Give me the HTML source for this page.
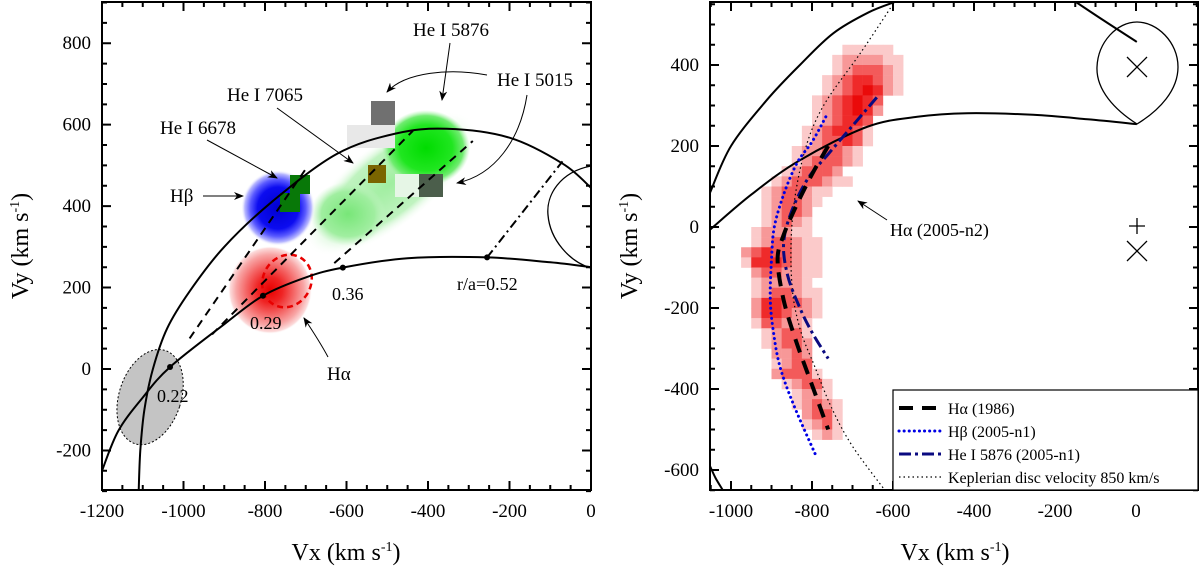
<!DOCTYPE html>
<html><head><meta charset="utf-8">
<style>
html,body{margin:0;padding:0;background:#fff;}
svg{display:block;font-family:"Liberation Serif",serif;}
</style></head>
<body>
<svg id="fig" width="1200" height="567" viewBox="0 0 1200 567" xmlns="http://www.w3.org/2000/svg">
<defs>
<clipPath id="clipL"><rect x="102" y="2" width="489" height="488"/></clipPath>
<clipPath id="clipR"><rect x="710" y="2" width="488" height="488"/></clipPath>
<radialGradient id="gRed"><stop offset="0" stop-color="#e80000"/><stop offset="0.3" stop-color="#ef2424"/><stop offset="0.55" stop-color="#f46262"/><stop offset="0.8" stop-color="#f8a4a4"/><stop offset="0.95" stop-color="#fcdcdc"/><stop offset="1" stop-color="#fff" stop-opacity="0"/></radialGradient>
<radialGradient id="gBlue"><stop offset="0" stop-color="#0000d0"/><stop offset="0.55" stop-color="#0c0cf0"/><stop offset="0.75" stop-color="#5a5aff"/><stop offset="0.9" stop-color="#b8b8ff"/><stop offset="1" stop-color="#fff" stop-opacity="0"/></radialGradient>
<radialGradient id="gGreenL"><stop offset="0" stop-color="#a0eea0"/><stop offset="0.7" stop-color="#c0f3c0"/><stop offset="1" stop-color="#fff" stop-opacity="0"/></radialGradient>
<radialGradient id="gGreenB"><stop offset="0" stop-color="#00dc00"/><stop offset="0.6" stop-color="#20e620"/><stop offset="0.85" stop-color="#70ec70"/><stop offset="1" stop-color="#b0f3b0" stop-opacity="0"/></radialGradient>
<radialGradient id="gGreenM"><stop offset="0" stop-color="#78e678"/><stop offset="0.7" stop-color="#a0eea0"/><stop offset="1" stop-color="#c8f5c8" stop-opacity="0"/></radialGradient>
<marker id="arr" markerWidth="10" markerHeight="8" refX="9" refY="4" orient="auto" markerUnits="userSpaceOnUse"><path d="M0,0 L10,4 L0,8 L3,4 Z" fill="#000"/></marker>
</defs>
</svg>
<script>
// ===== LEFT PANEL DATA (km/s) =====
const leftXTicks = [-1200,-1000,-800,-600,-400,-200,0];
const leftYTicks = [-200,0,200,400,600,800];
const outerArcVx = [-1110,-1106,-1096,-1075,-1040,-984,-900,-780,-624,-480,-354,-200,-69,0];
const outerArcVy = [-300,-200,-100,0,100,192,300,413,528,578,590,568,504,445];
const innerArcVx = [-1200,-1160,-1100,-1033,-900,-805,-700,-609,-450,-255,-100,0];
const innerArcVy = [-250,-152,-70,5,110,180,225,249,272,274,262,250];
const markVx = [-1033,-805,-609,-255];
const markVy = [5,180,249,274];
const markLabels = ["0.22","0.29","0.36","r/a=0.52"];
const dashStartVx = [-985,-930,-630];
const dashStartVy = [75,85,260];
const dashEndVx = [-694,-437,-290];
const dashEndVy = [500,585,560];
// ===== RIGHT PANEL DATA (km/s) =====
const rightXTicks = [-1000,-800,-600,-400,-200,0];
const rightYTicks = [-600,-400,-200,0,200,400];
const heatRowVy = [450,425,400,375,350,325,300,275,250,225,200,175,150,125,100,75,50,25,0,-25,-50,-75,-100,-125,-150,-175,-200,-225,-250,-275,-300,-325,-350,-375,-400,-425,-450,-475,-500];
const heatRowLeft = [-725,-750,-750,-775,-775,-800,-800,-800,-825,-825,-850,-850,-875,-900,-925,-925,-925,-925,-950,-950,-975,-975,-950,-950,-950,-950,-950,-950,-925,-925,-900,-900,-900,-875,-850,-850,-825,-825,-800];
const heatRowLevels = ["11111","1222211","1233321","12344321","12345421","1234543","1234542","123443","1234431","1233431","1223321","1233321","123332","12333211","1233211","123321","12332","12321","122211","1233211","23433211","14443211","2332211","122221","1233211","2443321","2443221","133221","12331","12332","2232","1233","23331","12331","1221","12321","2331","1231","121"];
const haVx = [-760,-800,-840,-870,-885,-870,-840,-800,-760];
const haVy = [200,130,50,-20,-80,-180,-280,-390,-500];
const hbVx = [-766,-800,-837,-870,-893,-900,-903,-895,-879,-845,-790];
const hbVy = [272,210,158,80,0,-80,-180,-260,-345,-440,-565];
const heVx = [-640,-700,-760,-810,-850,-870,-860,-830,-800,-760];
const heVy = [320,250,180,120,40,-40,-120,-200,-260,-325];
const kepVx = [-600,-680,-773,-820,-848,-850,-830,-793,-750,-699,-620];
const kepVy = [550,430,297,180,25,-138,-250,-345,-450,-543,-650];
const rOuterVx = [-1052,-1000,-911,-830,-748,-660,-583];
const rOuterVy = [84,200,314,400,478,530,560];
const rTopVx = [-155,-80,2];
const rTopVy = [560,510,457];
const rBotVx = [-1052,-1038,-1020];
const rBotVy = [-590,-620,-650];
const rStreamVx = [-1052,-950,-830,-665,-540,-417,-254,-120,2];
const rStreamVy = [-7,80,165,247,272,281,277,266,254];

const NS = "http://www.w3.org/2000/svg";
const svg = document.getElementById('fig');
const xL = v => 102 + (v + 1200) * 0.4075;
const yL = v => 369 - v * 0.4072;
const xR = v => 731 + (v + 1000) * 0.405;
const yR = v => 227 - v * 0.405;

function mk(tag, attrs, parent) {
  const e = document.createElementNS(NS, tag);
  for (const k in attrs) e.setAttribute(k, attrs[k]);
  (parent || svg).appendChild(e);
  return e;
}
function smooth(xs, ys, fx, fy) {
  const p = xs.map((v, i) => [fx(v), fy(ys[i])]);
  let d = "M" + p[0][0].toFixed(1) + "," + p[0][1].toFixed(1);
  for (let i = 0; i < p.length - 1; i++) {
    const p0 = p[Math.max(0, i - 1)], p1 = p[i], p2 = p[i + 1], p3 = p[Math.min(p.length - 1, i + 2)];
    const c1 = [p1[0] + (p2[0] - p0[0]) / 6, p1[1] + (p2[1] - p0[1]) / 6];
    const c2 = [p2[0] - (p3[0] - p1[0]) / 6, p2[1] - (p3[1] - p1[1]) / 6];
    d += " C" + c1.map(n => n.toFixed(1)).join(",") + " " + c2.map(n => n.toFixed(1)).join(",") + " " + p2.map(n => n.toFixed(1)).join(",");
  }
  return d;
}
function txt(x, y, s, size, anchor, parent) {
  const t = mk('text', {x: x, y: y, 'font-size': size, 'text-anchor': anchor || 'start', fill: '#000'}, parent);
  t.textContent = s;
  return t;
}

// ================= LEFT PANEL =================
const gL = mk('g', {'clip-path': 'url(#clipL)'});



const ell = mk('ellipse', {cx: xL(-1082), cy: yL(-69), rx: 31, ry: 49, fill: '#c4c4c4', stroke: '#000', 'stroke-width': 1, 'stroke-dasharray': '2,2', transform: 'rotate(18 ' + xL(-1082) + ' ' + yL(-69) + ')'}, gL);



const gb1 = mk('ellipse', {cx: 390, cy: 184, rx: 104, ry: 42, fill: 'url(#gGreenL)', transform: 'rotate(-38 390 184)'}, gL);


const gb2 = mk('ellipse', {cx: 348, cy: 214, rx: 38, ry: 32, fill: 'url(#gGreenM)'}, gL);


const gb3 = mk('ellipse', {cx: 426, cy: 148, rx: 44, ry: 38, fill: 'url(#gGreenB)'}, gL);



const bb = mk('ellipse', {cx: 278, cy: 208, rx: 37, ry: 38, fill: 'url(#gBlue)'}, gL);



const rb = mk('ellipse', {cx: 270, cy: 290, rx: 42, ry: 44, fill: 'url(#gRed)'}, gL);


const rdash = mk('ellipse', {cx: 287, cy: 281, rx: 24, ry: 27, fill: 'none', stroke: '#e80000', 'stroke-width': 2.5, 'stroke-dasharray': '6,4', transform: 'rotate(30 287 281)'}, gL);



const sqs = [
  [347, 125, 48, 23, '#e8e8e8', 'hei5015-square-light'],
  [371, 101, 24, 24, '#707070', 'hei5015-square-dark'],
  [368, 165, 18, 18, '#7a6500', 'hei7065-square'],
  [395, 174, 24, 23, '#e6f6e6', 'hei5015-square-pale'],
  [419, 174, 24, 23, '#4b5e4b', 'hei5015-square-green'],
  [290, 175, 20, 19, '#087808', 'hei6678-square-top'],
  [280, 193, 20, 19, '#087808', 'hei6678-square-bottom']
];
sqs.forEach(s => {
  const r = mk('rect', {x: s[0], y: s[1], width: s[2], height: s[3], fill: s[4]}, gL);
  
  
});

dashStartVx.forEach((v, i) => {
  const l = mk('line', {x1: xL(v), y1: yL(dashStartVy[i]), x2: xL(dashEndVx[i]), y2: yL(dashEndVy[i]), stroke: '#000', 'stroke-width': 2, 'stroke-dasharray': '8,6'}, gL);
  
  
});
const dd = mk('line', {x1: xL(-255), y1: yL(274), x2: xL(-70), y2: yL(510), stroke: '#000', 'stroke-width': 2, 'stroke-dasharray': '9,4,2,4'}, gL);



const oa = mk('path', {d: smooth(outerArcVx, outerArcVy, xL, yL), fill: 'none', stroke: '#000', 'stroke-width': 2}, gL);


const ia = mk('path', {d: smooth(innerArcVx, innerArcVy, xL, yL), fill: 'none', stroke: '#000', 'stroke-width': 2}, gL);


const loop = mk('path', {d: 'M591,166 C560,172 546,195 548,215 C550,240 570,262 591,268', fill: 'none', stroke: '#000', 'stroke-width': 1.3}, gL);



markVx.forEach((v, i) => {
  const c = mk('circle', {cx: xL(v), cy: yL(markVy[i]), r: 3, fill: '#000'}, gL);
  
  
});
const labPos = [[157, 402], [250, 329], [332, 300], [457, 290]];
markLabels.forEach((s, i) => {
  const t = txt(labPos[i][0], labPos[i][1], s, 18);
  
  
});

const annL = [
  [413, 36, 'He I 5876', 'label-hei5876'],
  [497, 86, 'He I 5015', 'label-hei5015'],
  [227, 101, 'He I 7065', 'label-hei7065'],
  [160, 134, 'He I 6678', 'label-hei6678'],
  [170, 202, 'Hβ', 'label-hbeta'],
  [327, 380, 'Hα', 'label-halpha']
];
annL.forEach(a => {
  const t = txt(a[0], a[1], a[2], 19);
  
  
});
const arrowsL = [
  ['M450,43 L442,100', 'arrow-hei5876'],
  ['M487,75 C450,68 405,72 387,92', 'arrow-hei5015-a'],
  ['M527,95 C520,140 495,175 457,183', 'arrow-hei5015-b'],
  ['M277,108 L353,163', 'arrow-hei7065'],
  ['M207,140 L277,178', 'arrow-hei6678'],
  ['M203,196 L243,196', 'arrow-hbeta'],
  ['M328,357 C320,342 312,330 304,318', 'arrow-halpha']
];
arrowsL.forEach(a => {
  const p = mk('path', {d: a[0], fill: 'none', stroke: '#000', 'stroke-width': 1, 'marker-end': 'url(#arr)'});
  
  
});

// ================= RIGHT PANEL =================
const gR = mk('g', {'clip-path': 'url(#clipR)'});


const heatColors = ['#fff', '#fbcaca', '#f79898', '#f35a5a', '#ef2a2a', '#ea0a0a'];
const cw = 25 * 0.405;
heatRowVy.forEach((vy, r) => {
  const s = heatRowLevels[r];
  for (let i = 0; i < s.length; i++) {
    const lv = +s[i];
    const c = mk('rect', {x: xR(heatRowLeft[r] + 25 * i), y: yR(vy), width: cw + 0.3, height: cw + 0.3, fill: heatColors[lv]}, gR);
    
    
  }
});
const kp = mk('path', {d: smooth(kepVx, kepVy, xR, yR), fill: 'none', stroke: '#000', 'stroke-width': 1.2, 'stroke-dasharray': '1.5,3'}, gR);


const ro = mk('path', {d: smooth(rOuterVx, rOuterVy, xR, yR), fill: 'none', stroke: '#000', 'stroke-width': 2}, gR);


const rt = mk('path', {d: smooth(rTopVx, rTopVy, xR, yR), fill: 'none', stroke: '#000', 'stroke-width': 2}, gR);


const rbo = mk('path', {d: smooth(rBotVx, rBotVy, xR, yR), fill: 'none', stroke: '#000', 'stroke-width': 2}, gR);


const rs = mk('path', {d: smooth(rStreamVx, rStreamVy, xR, yR), fill: 'none', stroke: '#000', 'stroke-width': 2}, gR);


const hb = mk('path', {d: smooth(hbVx, hbVy, xR, yR), fill: 'none', stroke: '#0000e6', 'stroke-width': 3, 'stroke-dasharray': '0.1,5', 'stroke-linecap': 'round'}, gR);


const he = mk('path', {d: smooth(heVx, heVy, xR, yR), fill: 'none', stroke: '#0a0a80', 'stroke-width': 3, 'stroke-dasharray': '12,4,3,4'}, gR);


const ha = mk('path', {d: smooth(haVx, haVy, xR, yR), fill: 'none', stroke: '#000', 'stroke-width': 4, 'stroke-dasharray': '14,9'}, gR);


const td = mk('path', {d: 'M1137,124 C1115,110 1096,90 1097,67 C1098,42 1117,22 1137,22 C1157,22 1178,42 1178,67 C1178,90 1160,110 1137,124 Z', fill: 'none', stroke: '#000', 'stroke-width': 1.3}, gR);


const mX = [[1137, 67, 'cross-secondary'], [1137, 251, 'cross-centre-of-mass']];
mX.forEach(m => {
  const p = mk('path', {d: `M${m[0]-10},${m[1]-10} L${m[0]+10},${m[1]+10} M${m[0]+10},${m[1]-10} L${m[0]-10},${m[1]+10}`, stroke: '#000', 'stroke-width': 1.3}, gR);
  
  
});
const plus = mk('path', {d: 'M1137,218 L1137,234 M1129,226 L1145,226', stroke: '#000', 'stroke-width': 1.3}, gR);


const haLab = txt(890, 236, 'Hα (2005-n2)', 18);


const haArr = mk('path', {d: 'M887,220 L858,201', fill: 'none', stroke: '#000', 'stroke-width': 1, 'marker-end': 'url(#arr)'});



// ================= AXES =================
function axes(x0, y0, x1, y1, fx, fy, xr, yr, xt, yt, side) {
  const g = mk('g', {});
  
  
  const fr = mk('rect', {x: x0, y: y0, width: x1 - x0, height: y1 - y0, fill: 'none', stroke: '#000', 'stroke-width': 2}, g);
  
  
  let d = '';
  for (let v = Math.ceil(xr[0] / 50) * 50; v <= xr[1]; v += 50) {
    const x = fx(v), len = (v % 200 === 0) ? 9 : 5;
    d += `M${x},${y1} L${x},${y1 - len} M${x},${y0} L${x},${y0 + len} `;
  }
  for (let v = Math.ceil(yr[0] / 50) * 50; v <= yr[1]; v += 50) {
    const y = fy(v), len = (v % 200 === 0) ? 9 : 5;
    d += `M${x0},${y} L${x0 + len},${y} M${x1},${y} L${x1 - len},${y} `;
  }
  const tk = mk('path', {d: d, stroke: '#000', 'stroke-width': 2}, g);
  
  
  xt.forEach(v => {
    const t = txt(fx(v), 517, String(v), 19, 'middle', g);
    
    
  });
  yt.forEach(v => {
    const t = txt(x0 - 11, fy(v) + 6, String(v), 19, 'end', g);
    
    
  });
}
axes(102, 2, 591, 490, xL, yL, [-1200, 0], [-300, 900], leftXTicks, leftYTicks, 'left');
axes(710, 2, 1198, 490, xR, yR, [-1050, 150], [-650, 555], rightXTicks, rightYTicks, 'right');

function title(x, y, main, rot, name) {
  const t = mk('text', {x: x, y: y, 'font-size': 24, 'text-anchor': 'middle', transform: rot ? `rotate(-90 ${x} ${y})` : ''});
  
  
  const a = document.createElementNS(NS, 'tspan'); a.textContent = main + ' (km s'; t.appendChild(a);
  const b = document.createElementNS(NS, 'tspan'); b.setAttribute('dy', '-9'); b.setAttribute('font-size', '14'); b.textContent = '-1'; t.appendChild(b);
  const c = document.createElementNS(NS, 'tspan'); c.setAttribute('dy', '9'); c.textContent = ')'; t.appendChild(c);
}
title(346, 560, 'Vx', false, 'left-x-axis-title');
title(28, 246, 'Vy', true, 'left-y-axis-title');
title(955, 560, 'Vx', false, 'right-x-axis-title');
title(637, 246, 'Vy', true, 'right-y-axis-title');

// ================= LEGEND =================
const lg = mk('g', {});


const lb = mk('rect', {x: 893, y: 390, width: 305, height: 100, fill: '#fff', stroke: '#000', 'stroke-width': 1.2}, lg);


const legItems = [
  ['Hα (1986)', '#000', 4, '14,9', 'legend-entry-halpha-1986', 'butt'],
  ['Hβ (2005-n1)', '#0000e6', 3, '0.1,5', 'legend-entry-hbeta', 'round'],
  ['He I 5876 (2005-n1)', '#0a0a80', 3, '12,4,3,4', 'legend-entry-hei5876', 'butt'],
  ['Keplerian disc velocity 850 km/s', '#000', 1.2, '1.5,3', 'legend-entry-keplerian', 'butt']
];
legItems.forEach((it, i) => {
  const y = 408 + i * 23;
  const l = mk('line', {x1: 899, y1: y, x2: 944, y2: y, stroke: it[1], 'stroke-width': it[2], 'stroke-dasharray': it[3], 'stroke-linecap': it[5]}, lg);
  
  
  const t = txt(948, y + 6, it[0], 16, 'start', lg);
  
  
});
</script>
</body></html>
